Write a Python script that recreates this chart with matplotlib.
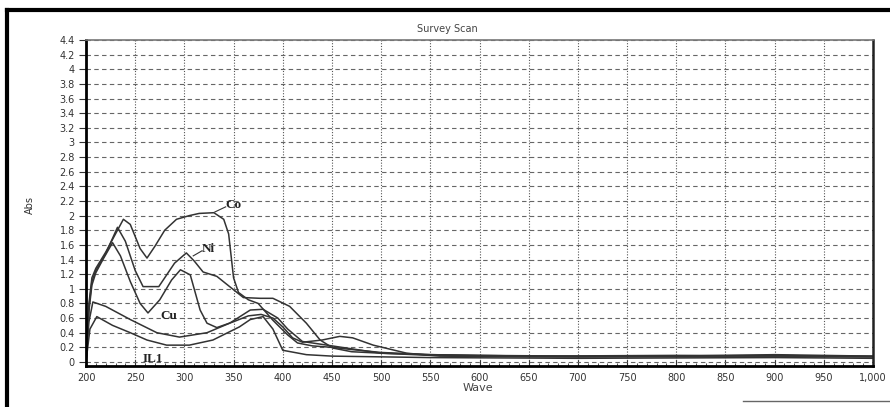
import matplotlib
matplotlib.use("Agg")
import matplotlib.pyplot as plt
from matplotlib.lines import Line2D
import numpy as np

# ---- data ----
co_x = [200, 203, 206, 210, 220, 230, 238, 245, 255, 262, 270, 280, 292, 305, 315, 330, 340, 345, 350, 355, 365, 375, 390, 405, 415, 430, 450, 470, 500, 550, 600, 700, 800, 900, 1000]
co_y = [0.0, 0.8, 1.15, 1.28, 1.5, 1.75, 1.95, 1.88, 1.55, 1.42, 1.58, 1.8, 1.95, 2.0, 2.03, 2.04, 1.95, 1.75, 1.15, 0.95, 0.85, 0.8, 0.57, 0.37, 0.26, 0.22, 0.2, 0.17, 0.13, 0.1, 0.09, 0.08, 0.08, 0.1, 0.08]

ni_x = [200, 203, 206, 210, 220, 232, 240, 250, 258, 274, 290, 302, 310, 319, 333, 346, 360, 377, 390, 407, 424, 438, 451, 470, 500, 550, 650, 800, 1000]
ni_y = [0.0, 0.75, 1.1, 1.25, 1.48, 1.84, 1.65, 1.25, 1.03, 1.03, 1.35, 1.49, 1.38, 1.23, 1.17, 1.03, 0.88, 0.87, 0.87, 0.76, 0.53, 0.3, 0.19, 0.14, 0.12, 0.1, 0.08, 0.09, 0.08]

cu_x = [200, 203, 206, 210, 218, 227, 235, 245, 255, 263, 275, 287, 296, 306, 316, 323, 333, 350, 365, 378, 390, 400, 410, 420, 440, 458, 471, 492, 526, 560, 650, 800, 1000]
cu_y = [0.0, 0.7, 1.05, 1.22, 1.42, 1.63, 1.45, 1.1, 0.8, 0.67, 0.85, 1.12, 1.26, 1.19, 0.71, 0.53, 0.47, 0.55, 0.63, 0.65, 0.6, 0.48, 0.33, 0.27, 0.3, 0.35, 0.33, 0.23, 0.12, 0.08, 0.07, 0.07, 0.07]

il1a_x = [200, 203, 207, 220, 245, 272, 295, 323, 346, 367, 380, 395, 405, 420, 440, 460, 500, 550, 700, 900, 1000]
il1a_y = [0.0, 0.55, 0.82, 0.76, 0.58, 0.4, 0.34, 0.4, 0.53, 0.71, 0.72, 0.6, 0.45, 0.28, 0.24, 0.2, 0.12, 0.09, 0.07, 0.09, 0.07]

il1b_x = [200, 204, 211, 227, 245, 262, 282, 305, 329, 356, 367, 380, 390, 400, 424, 450, 550, 700, 900, 1000]
il1b_y = [0.0, 0.45, 0.62, 0.5, 0.4, 0.3, 0.23, 0.23, 0.3, 0.48, 0.58, 0.62, 0.45, 0.16, 0.1, 0.08, 0.06, 0.05, 0.06, 0.05]

x_ticks = [200, 250, 300, 350, 400, 450, 500, 550, 600, 650, 700, 750, 800, 850, 900, 950, 1000]
x_tick_labels = ["200", "250", "300", "350", "400", "450", "500", "550", "600", "650", "700", "750", "800", "850", "900", "950", "1,000"]
y_ticks = [round(0.2 * i, 1) for i in range(23)]
y_tick_labels = ["0", "0.2", "0.4", "0.6", "0.8", "1", "1.2", "1.4", "1.6", "1.8", "2", "2.2", "2.4", "2.6", "2.8", "3", "3.2", "3.4", "3.6", "3.8", "4", "4.2", "4.4"]

W, H = 890, 407
fig = plt.figure(figsize=(W / 100, H / 100), dpi=100)
fig.patch.set_facecolor("white")
ax = fig.add_axes([86 / W, 1 - 366 / H, (873 - 86) / W, (366 - 40) / H])

ax.set_xlim(200, 1000)
ax.set_ylim(-0.055, 4.4)

lc = "#333333"
for xs, ys in [(co_x, co_y), (ni_x, ni_y), (cu_x, cu_y), (il1a_x, il1a_y), (il1b_x, il1b_y)]:
    ax.plot(xs, ys, color=lc, lw=1.1)

ax.set_xticks(x_ticks)
ax.set_xticklabels(x_tick_labels)
ax.set_yticks(y_ticks)
ax.set_yticklabels(y_tick_labels)
ax.set_xticks(np.arange(200, 1001, 10), minor=True)
ax.tick_params(axis="x", which="major", direction="in", length=4, labelsize=7, colors="#333333", pad=5)
ax.tick_params(axis="x", which="minor", direction="in", length=2, color="#333333")
ax.tick_params(axis="y", direction="out", length=5, labelsize=7, colors="#333333", pad=3)

ax.grid(True, axis="x", which="major", linestyle=(0, (1, 1.5)), color="#555555", lw=0.8)
ax.grid(True, axis="y", which="major", linestyle=(0, (4, 3)), color="#666666", lw=0.8)
ax.set_axisbelow(True)

for side, lw, col in [("left", 2.0, "black"), ("bottom", 2.0, "black"), ("right", 1.8, "#222222"), ("top", 1.2, "#777777")]:
    ax.spines[side].set_linewidth(lw)
    ax.spines[side].set_color(col)

# curve labels
serif = ["Liberation Serif", "DejaVu Serif"]
ax.text(342, 2.15, "Co", fontsize=9.5, family=serif, weight="bold", ha="left", va="center", color="#222222")
ax.plot([331, 342], [2.05, 2.12], color=lc, lw=0.8)
ax.text(318, 1.55, "Ni", fontsize=9.5, family=serif, weight="bold", ha="left", va="center", color="#222222")
ax.plot([309, 318], [1.45, 1.52], color=lc, lw=0.8)
ax.text(276, 0.63, "Cu", fontsize=9.5, family=serif, weight="bold", ha="left", va="center", color="#222222")
ax.text(258, 0.04, "IL1", fontsize=9.5, family=serif, weight="bold", ha="left", va="center", color="#222222")

fig.text(447 / W, 1 - 29 / H, "Survey Scan", fontsize=7, ha="center", va="center", color="#444444")
fig.text(478 / W, 1 - 388 / H, "Wave", fontsize=8, ha="center", va="center", color="#444444")
fig.text(30 / W, 1 - 205 / H, "Abs", fontsize=7, ha="center", va="center", rotation=90, color="#333333")

# scanned page border
fig.add_artist(Line2D([7 / W, 1], [1 - 10 / H, 1 - 10 / H], color="black", lw=3, transform=fig.transFigure))
fig.add_artist(Line2D([7 / W, 7 / W], [0, 1 - 10 / H], color="black", lw=3, transform=fig.transFigure))
fig.add_artist(Line2D([743 / W, 1], [1 - 401 / H, 1 - 401 / H], color="#666666", lw=1, transform=fig.transFigure))

fig.savefig("out.png", dpi=100, facecolor="white")
